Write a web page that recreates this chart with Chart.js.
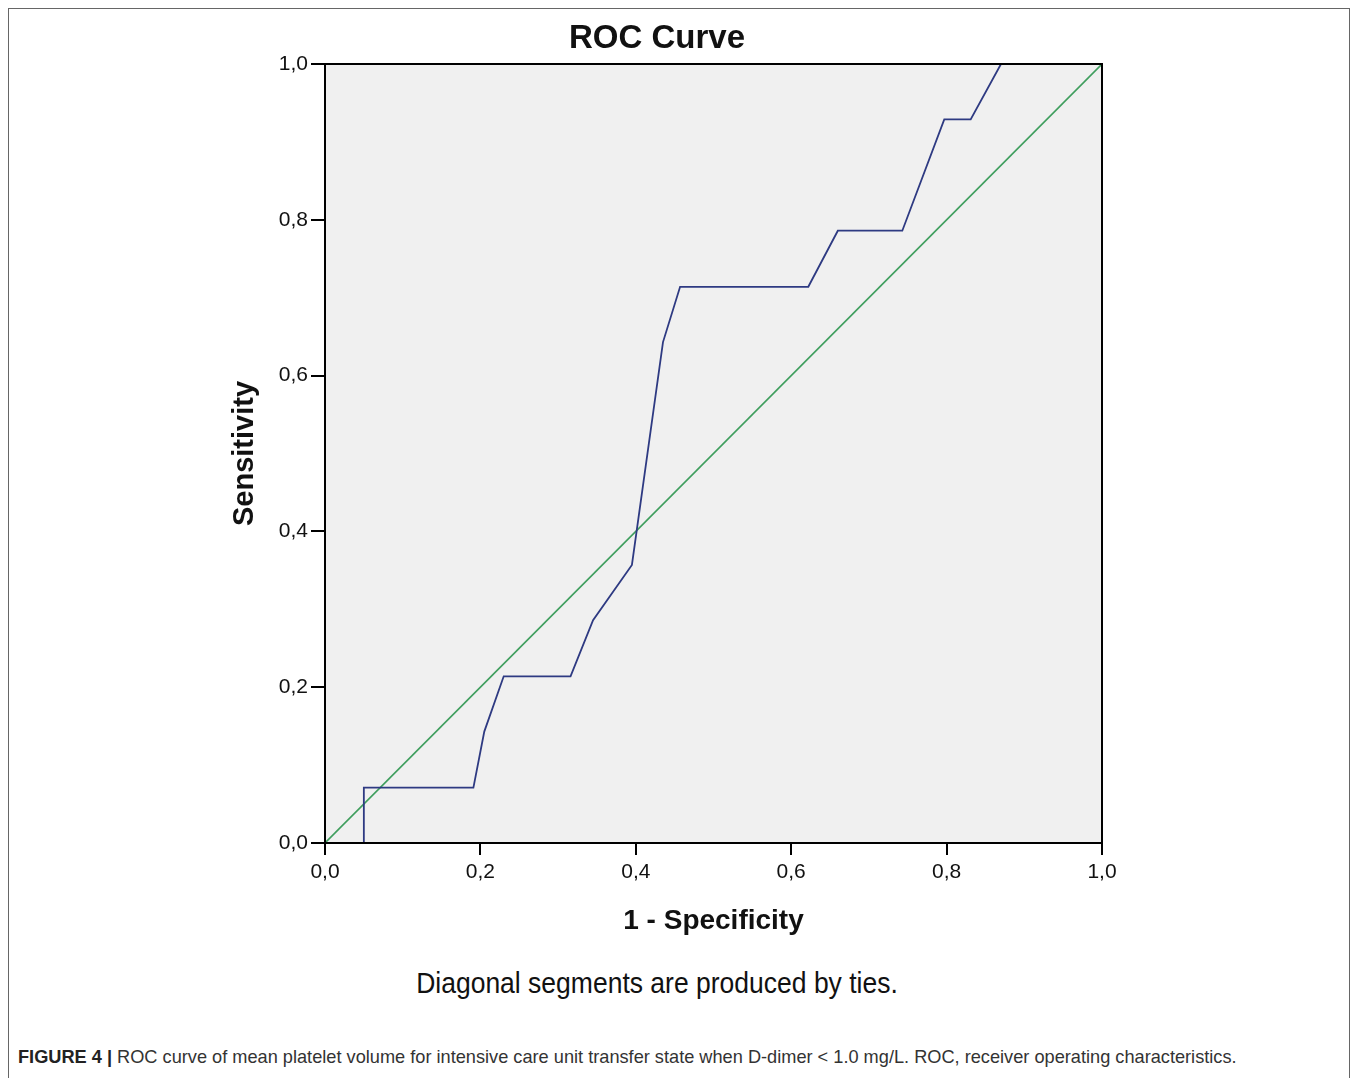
<!DOCTYPE html>
<html>
<head>
<meta charset="utf-8">
<script src="https://cdn.jsdelivr.net/npm/chart.js@4/dist/chart.umd.min.js"></script>
<style>
  html, body { margin: 0; padding: 0; background: #fff; width: 1358px; height: 1078px; overflow: hidden; }
  #frame { position: absolute; left: 8px; top: 8px; width: 1342px; height: 1100px; border: 1px solid #666; box-sizing: border-box; }
  #wrap { position: absolute; left: 0; top: 0; width: 1358px; height: 950px; }
  #note { position: absolute; left: 0; width: 1314px; top: 968px; text-align: center;
          font-family: "Liberation Sans", Arial, sans-serif; font-size: 26.5px; color: #111; transform: scaleY(1.08); }
  #caption { position: absolute; left: 18px; top: 1047px; font-family: "Liberation Sans", Arial, sans-serif;
             font-size: 18.2px; color: #333; white-space: nowrap; }
  #caption b { color: #222; }
</style>
</head>
<body>
<div id="frame"></div>
<div id="wrap"><canvas id="c"></canvas></div>
<div id="note">Diagonal segments are produced by ties.</div>
<div id="caption"><b>FIGURE 4 |</b> ROC curve of mean platelet volume for intensive care unit transfer state when D-dimer &lt; 1.0 mg/L. ROC, receiver operating characteristics.</div>
<script>
// ROC curve points (1 - Specificity, Sensitivity)
const fpr = [0, 0.050, 0.050, 0.191, 0.205, 0.230, 0.316, 0.345, 0.395, 0.435, 0.457, 0.622, 0.660, 0.743, 0.797, 0.831, 0.870, 1.0];
const tpr = [0, 0, 0.071, 0.071, 0.143, 0.214, 0.214, 0.286, 0.357, 0.643, 0.714, 0.714, 0.786, 0.786, 0.929, 0.929, 1.0, 1.0];
// Reference line
const refX = [0, 1];
const refY = [0, 1];
const tickValues = [0, 0.2, 0.4, 0.6, 0.8, 1.0];

const rocData = fpr.map((x, i) => ({ x: x, y: tpr[i] }));
const refData = refX.map((x, i) => ({ x: x, y: refY[i] }));

const bgPlugin = {
  id: 'plotBg',
  beforeDatasetsDraw(chart) {
    const { ctx, chartArea: a } = chart;
    ctx.save();
    ctx.fillStyle = '#f0f0f0';
    ctx.fillRect(a.left, a.top, a.right - a.left, a.bottom - a.top);
    ctx.restore();
  },
  afterDatasetsDraw(chart) {
    const { ctx, chartArea: a } = chart;
    ctx.save();
    ctx.strokeStyle = '#000';
    ctx.lineWidth = 2;
    ctx.strokeRect(a.left, a.top, a.right - a.left, a.bottom - a.top);
    ctx.restore();
  }
};

const fmt = v => v.toFixed(1).replace('.', ',');

new Chart(document.getElementById('c'), {
  type: 'scatter',
  data: {
    datasets: [
      { data: refData, showLine: true, borderColor: '#3f9e5e', borderWidth: 1.6, pointRadius: 0, tension: 0, order: 2 },
      { data: rocData, showLine: true, borderColor: '#2e3a82', borderWidth: 1.8, pointRadius: 0, tension: 0, order: 1 }
    ]
  },
  options: {
    responsive: true,
    maintainAspectRatio: false,
    animation: false,
    layout: { padding: { left: 212, right: 256, top: 0, bottom: 0 } },
    plugins: {
      legend: { display: false },
      tooltip: { enabled: false },
      title: {
        display: true,
        text: 'ROC Curve',
        color: '#111',
        font: { family: 'Liberation Sans', size: 33, weight: 'bold', lineHeight: 1.2 },
        padding: { top: 19, bottom: 5.4 }
      }
    },
    scales: {
      x: {
        type: 'linear',
        min: 0, max: 1,
        afterFit: s => { s.height = 107; },
        afterBuildTicks: s => { s.ticks = tickValues.map(v => ({ value: v })); },
        ticks: { callback: v => fmt(v), color: '#111', font: { family: 'Liberation Sans', size: 21 }, padding: 5, maxRotation: 0 },
        grid: { drawOnChartArea: false, drawTicks: true, tickLength: 12, color: '#000', lineWidth: 2 },
        border: { color: '#000', width: 2 },
        title: { display: true, text: '1 - Specificity', color: '#111',
                 font: { family: 'Liberation Sans', size: 28, weight: 'bold', lineHeight: 1.2 },
                 padding: { top: 0, bottom: 12 } }
      },
      y: {
        type: 'linear',
        min: 0, max: 1,
        afterFit: s => { s.width = 113; },
        afterBuildTicks: s => { s.ticks = tickValues.map(v => ({ value: v })); },
        ticks: { callback: v => fmt(v), color: '#111', font: { family: 'Liberation Sans', size: 21 }, padding: 3 },
        grid: { drawOnChartArea: false, drawTicks: true, tickLength: 14, color: '#000', lineWidth: 2 },
        border: { color: '#000', width: 3 },
        title: { display: true, text: 'Sensitivity', color: '#111',
                 font: { family: 'Liberation Sans', size: 29, weight: 'bold', lineHeight: 1.2 },
                 padding: { top: 16, bottom: 0 } }
      }
    }
  },
  plugins: [bgPlugin]
});
</script>
</body>
</html>
